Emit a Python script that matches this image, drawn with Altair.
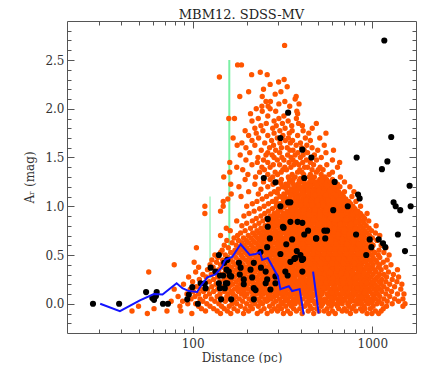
import altair as alt
import pandas as pd

# ---------------- data ----------------
# orange points: one list of distances (pc) per A_r level (mag)
orange_ar = [-0.100, -0.075, -0.050, -0.025, 0.000, 0.025, 0.050, 0.075, 0.100, 0.125,
             0.150, 0.175, 0.200, 0.225, 0.250, 0.275, 0.300, 0.325, 0.350, 0.375,
             0.400, 0.425, 0.450, 0.475, 0.500, 0.525, 0.550, 0.575, 0.600, 0.625,
             0.650, 0.675, 0.700, 0.725, 0.750, 0.775, 0.800, 0.825, 0.850, 0.875,
             0.900, 0.925, 0.950, 0.975, 1.000, 1.025, 1.050, 1.075, 1.100, 1.125,
             1.150, 1.175, 1.200, 1.225, 1.250, 1.275, 1.300, 1.325, 1.350, 1.375,
             1.400, 1.425, 1.450, 1.475, 1.500, 1.525, 1.550, 1.575, 1.600, 1.625,
             1.650, 1.675, 1.700, 1.725, 1.750, 1.775, 1.800, 1.825, 1.850, 1.875,
             1.900, 1.925, 1.950, 1.975, 2.000, 2.025, 2.050, 2.075, 2.100, 2.125,
             2.150, 2.175, 2.200, 2.225, 2.250, 2.275, 2.300, 2.325, 2.350, 2.375,
             2.450, 2.650]
orange_dist = [
    [56, 99, 143, 163, 192, 229, 260, 320, 350, 407, 472, 572, 622, 755, 935, 995, 1085],
    [46, 72, 86, 118, 137, 156, 178, 205, 240, 275, 297, 338, 378, 440, 505, 540, 600, 680, 720, 810, 880, 1040, 1120],
    [61, 112, 131, 150, 170, 196, 215, 250, 285, 312, 365, 395, 460, 490, 560, 650, 700, 770, 860, 910, 975, 1150],
    [50, 85, 108, 125, 145, 160, 185, 210, 232, 268, 300, 330, 355, 420, 450, 520, 590, 640, 740, 790, 900, 1010, 1200, 1480],
    [94, 104, 120, 140, 166, 176, 200, 222, 245, 280, 315, 345, 372, 400, 432, 480, 530, 570, 610, 680, 730, 830, 870, 950, 1060, 1130, 1290, 1520],
    [76, 88, 114, 133, 152, 171, 190, 213, 236, 258, 290, 325, 360, 390, 445, 470, 515, 555, 600, 660, 760, 800, 920, 1000, 1090, 1210, 1400],
    [98, 110, 127, 146, 161, 182, 206, 228, 252, 273, 305, 335, 368, 412, 455, 500, 545, 590, 640, 700, 750, 850, 890, 980, 1040, 1160, 1330, 1480],
    [83, 103, 118, 137, 155, 174, 195, 218, 240, 264, 285, 318, 350, 380, 425, 465, 510, 570, 620, 670, 720, 780, 830, 940, 1020, 1100, 1250],
    [93, 108, 124, 142, 158, 168, 187, 201, 225, 247, 270, 296, 312, 340, 362, 398, 440, 475, 525, 560, 610, 650, 705, 745, 810, 870, 925, 1000, 1070, 1190, 1380, 1500],
    [101, 115, 131, 150, 164, 180, 193, 212, 232, 256, 280, 305, 330, 355, 385, 410, 450, 490, 530, 580, 630, 690, 730, 790, 850, 900, 970, 1050, 1130, 1280],
    [79, 97, 111, 121, 138, 154, 171, 185, 205, 221, 243, 262, 290, 318, 345, 372, 400, 430, 465, 500, 545, 595, 640, 675, 720, 770, 830, 880, 950, 1020, 1100, 1210, 1440],
    [105, 128, 146, 160, 177, 198, 215, 236, 250, 275, 298, 325, 350, 380, 415, 440, 485, 515, 560, 610, 660, 705, 760, 810, 860, 920, 990, 1070, 1160, 1330],
    [89, 116, 135, 152, 167, 185, 203, 228, 245, 268, 285, 312, 335, 365, 392, 425, 455, 495, 535, 575, 620, 680, 730, 780, 840, 895, 960, 1030, 1120, 1250, 1460],
    [100, 124, 142, 158, 175, 192, 210, 232, 258, 280, 305, 328, 352, 378, 405, 440, 470, 510, 550, 595, 640, 700, 750, 800, 870, 930, 1000, 1090, 1190, 1370],
    [109, 131, 150, 165, 182, 200, 218, 240, 265, 290, 316, 342, 368, 395, 422, 455, 488, 525, 565, 610, 660, 720, 770, 825, 890, 950, 1040, 1130, 1290],
    [95, 119, 138, 155, 171, 188, 206, 225, 248, 272, 298, 322, 348, 372, 410, 445, 480, 515, 545, 585, 630, 680, 740, 790, 860, 920, 985, 1070, 1200, 1400],
    [114, 127, 145, 162, 178, 195, 214, 235, 256, 280, 308, 332, 360, 385, 430, 462, 500, 535, 570, 605, 650, 700, 760, 815, 880, 940, 1010, 1100, 1160, 1310],
    [57, 104, 133, 152, 168, 185, 202, 222, 243, 265, 290, 315, 340, 370, 398, 420, 452, 490, 525, 560, 600, 640, 690, 730, 780, 840, 900, 970, 1050, 1230],
    [121, 140, 158, 175, 193, 211, 230, 252, 275, 300, 325, 352, 378, 405, 438, 470, 505, 540, 580, 620, 665, 715, 770, 830, 885, 955, 1030, 1120, 1380],
    [108, 130, 148, 165, 182, 200, 220, 240, 262, 286, 310, 336, 362, 390, 418, 450, 485, 520, 555, 595, 630, 680, 740, 795, 860, 920, 990, 1080, 1190],
    [79, 125, 143, 158, 174, 191, 208, 228, 250, 270, 295, 320, 345, 372, 400, 430, 462, 495, 530, 570, 610, 655, 700, 755, 810, 870, 940, 1010, 1100, 1270],
    [102, 136, 152, 168, 185, 203, 222, 243, 265, 288, 312, 338, 365, 392, 422, 455, 488, 522, 560, 600, 645, 690, 745, 800, 855, 915, 985, 1060, 1150],
    [128, 147, 163, 180, 197, 214, 233, 255, 278, 302, 328, 354, 382, 410, 442, 475, 510, 548, 585, 625, 670, 720, 775, 835, 900, 965, 1040, 1210],
    [138, 157, 174, 190, 208, 226, 247, 268, 292, 318, 344, 370, 398, 428, 460, 495, 532, 570, 610, 655, 700, 755, 810, 870, 935, 1010, 1100],
    [133, 152, 170, 186, 202, 220, 240, 260, 282, 306, 332, 358, 386, 415, 446, 480, 516, 555, 595, 638, 685, 735, 790, 850, 915, 985, 1080, 1240],
    [143, 163, 180, 196, 214, 234, 254, 275, 298, 322, 348, 375, 404, 435, 468, 502, 540, 578, 620, 665, 712, 765, 822, 885, 950, 1030, 1160],
    [146, 172, 190, 208, 227, 247, 268, 290, 314, 340, 366, 394, 424, 455, 488, 524, 562, 602, 645, 690, 740, 795, 855, 920, 995, 1090],
    [105, 158, 183, 200, 218, 238, 258, 280, 304, 328, 354, 381, 410, 440, 472, 508, 545, 585, 626, 670, 718, 770, 828, 890, 960, 1190],
    [150, 175, 194, 212, 231, 250, 272, 295, 318, 344, 370, 398, 428, 460, 494, 530, 568, 608, 652, 698, 748, 800, 860, 925, 1010, 1120],
    [166, 188, 205, 224, 243, 264, 286, 310, 335, 360, 388, 416, 448, 480, 515, 552, 592, 634, 680, 728, 780, 838, 900, 980],
    [155, 180, 199, 217, 236, 256, 277, 300, 325, 350, 377, 405, 436, 468, 502, 538, 576, 618, 662, 710, 762, 818, 880, 950, 1060],
    [170, 192, 211, 230, 249, 270, 292, 316, 342, 368, 396, 425, 456, 490, 526, 564, 604, 646, 692, 742, 796, 855, 920, 1000],
    [143, 178, 204, 223, 242, 263, 284, 308, 333, 358, 386, 414, 445, 478, 512, 550, 590, 632, 678, 726, 778, 834, 895, 965, 1100],
    [185, 216, 235, 256, 277, 300, 325, 350, 377, 405, 434, 466, 500, 536, 575, 616, 660, 706, 756, 810, 870, 935, 1040],
    [162, 196, 228, 248, 269, 291, 315, 340, 366, 394, 423, 454, 487, 522, 560, 600, 642, 688, 736, 788, 846, 910, 990],
    [154, 210, 240, 261, 283, 306, 331, 357, 384, 412, 442, 474, 508, 545, 584, 625, 670, 716, 768, 824, 885, 960],
    [188, 222, 253, 274, 297, 321, 346, 372, 400, 430, 462, 495, 530, 568, 608, 651, 697, 746, 800, 858, 925, 1050],
    [200, 234, 266, 288, 311, 336, 362, 389, 418, 450, 482, 516, 553, 592, 634, 678, 726, 778, 834, 898],
    [176, 215, 246, 279, 302, 326, 352, 379, 407, 437, 469, 503, 538, 576, 616, 660, 706, 756, 810, 870, 955],
    [226, 258, 292, 316, 341, 367, 395, 424, 455, 488, 522, 559, 598, 640, 686, 734, 786, 842, 905],
    [193, 240, 270, 306, 331, 357, 384, 412, 442, 474, 508, 544, 582, 623, 667, 714, 764, 820, 880],
    [117, 206, 252, 284, 320, 346, 372, 400, 430, 461, 494, 529, 566, 606, 648, 694, 742, 795, 858, 935],
    [143, 220, 264, 298, 335, 361, 388, 417, 448, 480, 514, 550, 589, 630, 674, 722, 772, 830],
    [236, 278, 312, 350, 376, 404, 434, 465, 498, 533, 570, 610, 653, 699, 748, 800],
    [117, 148, 200, 250, 292, 326, 364, 392, 421, 452, 484, 518, 555, 594, 636, 680, 728, 780, 860],
    [215, 264, 306, 340, 378, 407, 437, 469, 502, 538, 576, 616, 660, 706, 756],
    [148, 228, 278, 320, 355, 395, 424, 455, 488, 522, 560, 600, 642, 688, 740, 810],
    [157, 244, 292, 336, 372, 410, 440, 472, 506, 542, 580, 622, 666, 712],
    [186, 258, 306, 350, 388, 426, 458, 490, 525, 562, 602, 645, 690, 770],
    [164, 232, 272, 322, 366, 404, 444, 476, 510, 546, 585, 628, 670],
    [205, 285, 338, 382, 420, 460, 494, 530, 568, 608, 650, 700, 790],
    [240, 300, 354, 398, 436, 478, 512, 550, 590, 632],
    [181, 262, 315, 370, 414, 454, 496, 532, 572, 614, 660, 750],
    [163, 222, 280, 330, 386, 430, 472, 514, 555, 598, 640],
    [248, 296, 346, 402, 448, 490, 535, 578, 620, 700],
    [196, 270, 312, 362, 418, 466, 510, 556, 600],
    [149, 224, 279, 341, 372, 446, 476, 544, 664],
    [203, 262, 297, 358, 415, 452, 519, 575],
    [161, 236, 288, 311, 384, 406, 488, 600],
    [190, 251, 318, 333, 395, 462, 500, 532],
    [176, 243, 270, 326, 352, 420, 437, 512, 640],
    [214, 281, 305, 366, 390, 471, 558],
    [161, 229, 262, 344, 377, 410, 452, 658],
    [198, 248, 296, 322, 362, 430, 489, 600],
    [231, 284, 314, 353, 398, 458, 520],
    [184, 256, 277, 338, 372, 412, 476],
    [208, 262, 305, 385, 436, 552],
    [241, 290, 348, 362, 418, 497, 608],
    [198, 268, 312, 336, 404, 462],
    [177, 222, 282, 377, 432, 540],
    [188, 252, 306, 350, 398],
    [214, 275, 328, 360, 452],
    [168, 233, 296, 341, 424, 510],
    [205, 262, 318, 384],
    [226, 284, 345, 443, 552],
    [196, 246, 306, 358, 412],
    [222, 279, 327, 463],
    [240, 292, 356, 408],
    [257, 316, 389, 488],
    [214, 284, 340],
    [159, 171, 232, 302, 378],
    [262, 322],
    [210, 384],
    [244, 290, 380],
    [226, 270],
    [243, 263, 347],
    [302, 391],
    [256, 271, 326],
    [372],
    [183, 244, 377],
    [288],
    [205, 310],
    [248],
    [336],
    [270],
    [301],
    [323],
    [141],
    [213, 260],
    [238],
    [178, 187],
    [325],
]

# extra orange points filling the dense core (distance, A_r read per band)
core_ar = [0.11, 0.16, 0.21, 0.26, 0.31, 0.36, 0.41, 0.46, 0.51, 0.56, 0.61, 0.66,
           0.71, 0.76, 0.81, 0.86, 0.91, 0.96, 1.01, 1.06, 1.11, 1.16, 1.21]
core_dist = [
    [233, 287, 326, 377, 416, 508, 585, 677, 778, 905],
    [196, 252, 304, 359, 415, 482, 568, 657, 744, 858],
    [218, 276, 350, 408, 473, 554, 647, 757, 865],
    [228, 302, 355, 410, 470, 545, 632, 740, 857],
    [245, 293, 346, 412, 478, 552, 627, 724, 838],
    [218, 287, 338, 391, 455, 522, 600, 690, 800, 918],
    [238, 306, 358, 416, 476, 548, 632, 726, 838],
    [242, 290, 342, 396, 458, 528, 604, 692, 800],
    [212, 271, 319, 372, 430, 497, 575, 660, 760, 880],
    [232, 301, 353, 411, 472, 543, 620, 710, 820],
    [261, 306, 357, 413, 477, 549, 630, 722, 830],
    [243, 304, 354, 410, 472, 544, 624, 716, 820],
    [255, 296, 345, 400, 462, 530, 608, 700, 805],
    [266, 318, 370, 428, 492, 565, 646, 740],
    [284, 334, 386, 446, 512, 588, 672, 770],
    [268, 314, 365, 422, 486, 556, 636, 726],
    [292, 344, 398, 458, 526, 602, 690],
    [306, 358, 414, 476, 546, 624, 712],
    [312, 376, 434, 500, 572, 652],
    [330, 392, 452, 520, 596, 676],
    [326, 372, 440, 508, 580],
    [356, 410, 470, 540, 614],
    [340, 392, 452, 520, 590],
]
core2_ar = [0.035, 0.085, 0.135, 0.185, 0.235, 0.285, 0.335, 0.385, 0.435, 0.485,
            0.535, 0.585, 0.635, 0.685, 0.735, 0.785, 0.835, 0.885, 0.935, 0.985,
            1.035, 1.085, 1.135, 1.185, 1.235, 1.285]
core2_dist = [
    [262, 338, 396, 458, 522, 603, 702, 815, 940],
    [216, 293, 353, 424, 497, 578, 668, 772, 896],
    [246, 322, 371, 436, 515, 598, 686, 792, 917],
    [227, 309, 386, 447, 522, 612, 708, 822],
    [252, 318, 374, 436, 503, 584, 677, 786, 905],
    [213, 281, 344, 401, 465, 538, 622, 718, 834],
    [239, 306, 362, 426, 493, 571, 658, 762, 878],
    [228, 294, 349, 407, 472, 546, 634, 734, 846],
    [246, 317, 376, 438, 508, 586, 675, 780, 905],
    [229, 295, 352, 414, 481, 556, 642, 742, 862],
    [263, 314, 370, 430, 498, 574, 660, 762, 878],
    [248, 299, 357, 419, 486, 562, 648, 746, 858],
    [274, 326, 383, 446, 515, 594, 684, 790],
    [257, 302, 356, 418, 484, 560, 646, 744, 860],
    [288, 338, 396, 458, 528, 608, 700, 806],
    [270, 318, 372, 432, 498, 574, 660, 756],
    [296, 346, 404, 466, 536, 616, 706, 812],
    [282, 330, 384, 444, 510, 585, 670, 768],
    [298, 356, 412, 474, 544, 622, 712, 810],
    [318, 366, 420, 482, 552, 630, 720],
    [292, 352, 402, 462, 530, 606, 690],
    [318, 380, 432, 494, 566, 644],
    [296, 346, 412, 468, 532, 604],
    [330, 382, 440, 505, 574],
    [310, 362, 420, 482, 548],
    [344, 398, 458, 524],
]
core3_ar = [0.0125, 0.0625, 0.1125, 0.1625, 0.2125, 0.2625, 0.3125, 0.3625, 0.4125,
            0.4625, 0.5125, 0.5625, 0.6125, 0.6625, 0.7125, 0.7625, 0.8125, 0.8625,
            0.9125, 0.9625, 1.0125, 1.0625, 1.1125, 1.1625, 1.2125, 1.2625]
core3_dist = [
    [240, 310, 372, 432, 498, 566, 648, 742, 860, 990],
    [274, 328, 386, 440, 512, 586, 664, 760, 876],
    [256, 318, 392, 452, 520, 595, 680, 790, 912],
    [282, 336, 398, 462, 536, 618, 710, 826],
    [262, 326, 384, 446, 514, 594, 688, 800, 930],
    [294, 348, 400, 458, 526, 604, 694, 806],
    [268, 322, 378, 440, 508, 586, 672, 776, 902],
    [300, 356, 414, 478, 552, 638, 736, 852],
    [274, 330, 390, 452, 520, 598, 690, 796],
    [312, 366, 424, 490, 566, 650, 748, 866],
    [286, 342, 402, 466, 538, 620, 716, 828],
    [322, 378, 438, 506, 584, 672, 772],
    [296, 350, 410, 474, 546, 628, 722, 836],
    [328, 384, 446, 514, 592, 680, 782],
    [308, 362, 422, 488, 562, 646, 744],
    [340, 398, 460, 530, 610, 700, 802],
    [316, 372, 434, 500, 576, 662, 760],
    [348, 406, 470, 540, 620, 712],
    [326, 384, 446, 514, 590, 676, 776],
    [354, 416, 480, 552, 634, 730],
    [340, 400, 462, 532, 610, 700],
    [368, 428, 494, 568, 650],
    [352, 414, 478, 550, 628],
    [378, 440, 504, 580],
    [366, 426, 490, 562],
    [392, 456, 522],
]

# black points
black_dist = [27.9, 39, 55.1, 59.7, 61, 62.5, 63.1, 68.4, 72.9, 93.4, 95.3, 99.6, 107, 110.8,
              118, 117, 126, 134, 140, 140, 144, 142, 148, 150, 151, 156, 156, 159, 164, 164,
              181, 154.5, 161, 153, 142, 185, 183, 192.6, 192.6, 210, 214.5, 219, 224, 219,
              219, 238.6, 240, 255, 260, 260, 255, 271, 289, 289, 262, 262, 308, 321, 332,
              328, 338, 358, 350, 384, 374, 350, 398, 406, 486, 541, 308, 249, 289, 340, 308,
              318, 269, 1166, 340, 1274, 408, 458, 818, 1213, 1131, 418, 617, 1612, 833, 850,
              730, 1313, 1349, 1430, 1634, 606, 350, 408, 439, 418, 560, 488, 547, 812, 967,
              1085, 1147, 1180, 988, 925, 1388, 1520, 380, 368, 412, 408]
black_ar = [0.00, 0.00, 0.12, 0.06, 0.04, 0.08, 0.12, 0.00, 0.00, 0.045, 0.095, 0.17, 0.00, 0.21,
            0.16, 0.21, 0.37, 0.33, 0.50, 0.21, 0.045, 0.29, 0.29, 0.42, 0.16, 0.45, 0.21, 0.33, 0.045, 0.28,
            0.42, 0.35, 0.29, 0.21, 0.16, 0.37, 0.30, 0.25, 0.20, 0.35, 0.27, 0.16, 0.14, 0.045,
            0.42, 0.53, 0.37, 0.33, 0.58, 0.25, 0.21, 0.146, 0.28, 0.21, 0.87, 0.79, 0.51, 0.78, 0.61,
            0.33, 0.29, 0.66, 0.84, 0.84, 0.47, 0.43, 0.50, 0.45, 0.67, 0.75, 1.70, 1.29, 1.245, 1.04, 1.00,
            0.79, 0.67, 2.70, 1.96, 1.71, 1.58, 1.50, 1.50, 1.46, 1.38, 1.29, 1.25, 1.21, 1.12, 1.08,
            1.00, 1.04, 1.00, 0.96, 1.00, 0.96, 1.04, 0.83, 0.75, 0.71, 0.75, 0.67, 0.67, 0.71, 0.66,
            0.66, 0.62, 0.58, 0.58, 0.50, 0.71, 0.54, 0.54, 0.46, 0.46, 0.33]

# blue line (two pieces)
blue_dist = [30.6, 39.4, 50.9, 60.9, 68, 81.5, 87.7, 95.4, 106, 110.8, 120.7, 134, 146, 152,
             166, 185, 208, 224, 237, 244, 262, 298, 308, 343, 358, 394, 415,
             468, 503]
blue_ar = [0.00, -0.075, 0.035, 0.10, 0.095, 0.21, 0.16, 0.13, 0.12, 0.18, 0.27, 0.30, 0.38, 0.45,
           0.48, 0.61, 0.50, 0.51, 0.53, 0.45, 0.47, 0.28, 0.15, 0.18, 0.13, 0.15, -0.11,
           0.33, -0.10]
blue_piece = [1] * 27 + [2] * 2

# green vertical lines
green_dist = [160, 125]
green_lo = [0.1, 0.1]
green_hi = [2.5, 1.1]
green_width = [2, 1]

# axis ticks
x_major = [100, 1000]
x_minor = [30, 40, 50, 60, 70, 80, 90, 200, 300, 400, 500, 600, 700, 800, 900]
y_major = [0.0, 0.5, 1.0, 1.5, 2.0, 2.5]
y_minor = [-0.2, -0.1, 0.1, 0.2, 0.3, 0.4, 0.6, 0.7, 0.8, 0.9, 1.1, 1.2, 1.3, 1.4,
           1.6, 1.7, 1.8, 1.9, 2.1, 2.2, 2.3, 2.4, 2.6, 2.7, 2.8]

# ---------------- tables ----------------
orange_rows = []
for levels, dists in ((orange_ar, orange_dist), (core_ar, core_dist),
                      (core2_ar, core2_dist), (core3_ar, core3_dist)):
    for a, ds in zip(levels, dists):
        for d in ds:
            orange_rows.append({"dist": d, "ar": a})
orange_df = pd.DataFrame(orange_rows)
black_df = pd.DataFrame({"dist": black_dist, "ar": black_ar})
blue_df = pd.DataFrame({"dist": blue_dist, "ar": blue_ar, "piece": blue_piece})
green_df = pd.DataFrame({"dist": green_dist, "lo": green_lo, "hi": green_hi, "w": green_width})

FONT = "DejaVu Serif"
TICK = "#555555"
LAB = "#333333"

xs = alt.Scale(type="log", domain=[20, 1750], nice=False)
ys = alt.Scale(domain=[-0.3, 2.9], nice=False, zero=False)


def ax(orient, values, size, labels=False, **kw):
    return alt.Axis(orient=orient, values=values, offset=-size, tickSize=size,
                    labels=labels, domain=False, grid=False, tickColor=TICK,
                    tickWidth=1, **kw)


green = alt.Chart(green_df).mark_rule(color="#7af0a4").encode(
    x=alt.X("dist:Q", scale=xs, axis=ax("top", x_minor, 4, title=None)),
    y=alt.Y("lo:Q", scale=ys, axis=ax("right", y_minor, 4, title=None)),
    y2="hi:Q",
    strokeWidth=alt.StrokeWidth("w:Q", scale=None),
)

orange = alt.Chart(orange_df).mark_circle(color="#ff5500", size=29, opacity=1).encode(
    x=alt.X("dist:Q", scale=xs,
            axis=ax("bottom", x_major, 7, labels=True, format="d", labelPadding=5,
                    labelFont=FONT, labelFontSize=12, labelColor=LAB,
                    title="Distance (pc)", titleFont=FONT, titleFontSize=12,
                    titleFontWeight="normal", titleColor=LAB, titlePadding=3)),
    y=alt.Y("ar:Q", scale=ys,
            axis=ax("left", y_major, 7, labels=True, format=".1f", labelPadding=3,
                    labelFont=FONT, labelFontSize=12, labelColor=LAB,
                    title="Aᵣ (mag)", titleFont=FONT, titleFontSize=12,
                    titleFontWeight="normal", titleColor=LAB, titlePadding=8)),
)

black = alt.Chart(black_df).mark_circle(color="#000000", size=38, opacity=1).encode(
    x=alt.X("dist:Q", scale=xs, axis=ax("bottom", x_minor, 4, title=None)),
    y=alt.Y("ar:Q", scale=ys, axis=ax("left", y_minor, 4, title=None)),
)

blue = alt.Chart(blue_df).mark_line(color="#1414ff", strokeWidth=2).encode(
    x=alt.X("dist:Q", scale=xs, axis=ax("top", x_major, 7, title=None)),
    y=alt.Y("ar:Q", scale=ys, axis=ax("right", y_major, 7, title=None)),
    detail="piece:N",
)

chart = alt.layer(green, orange, black, blue).resolve_axis(
    x="independent", y="independent"
).properties(
    width=349,
    height=312,
    title=alt.TitleParams("MBM12. SDSS-MV", font=FONT, fontSize=13, fontWeight="normal",
                          color="#222222", anchor="middle", offset=-1),
    autosize=alt.AutoSizeParams(type="none"),
    padding={"left": 59, "top": 13, "right": 10, "bottom": 30},
).configure_view(stroke=TICK, strokeWidth=1)

chart.save("out.html", embed_options={"renderer": "svg", "actions": False})
